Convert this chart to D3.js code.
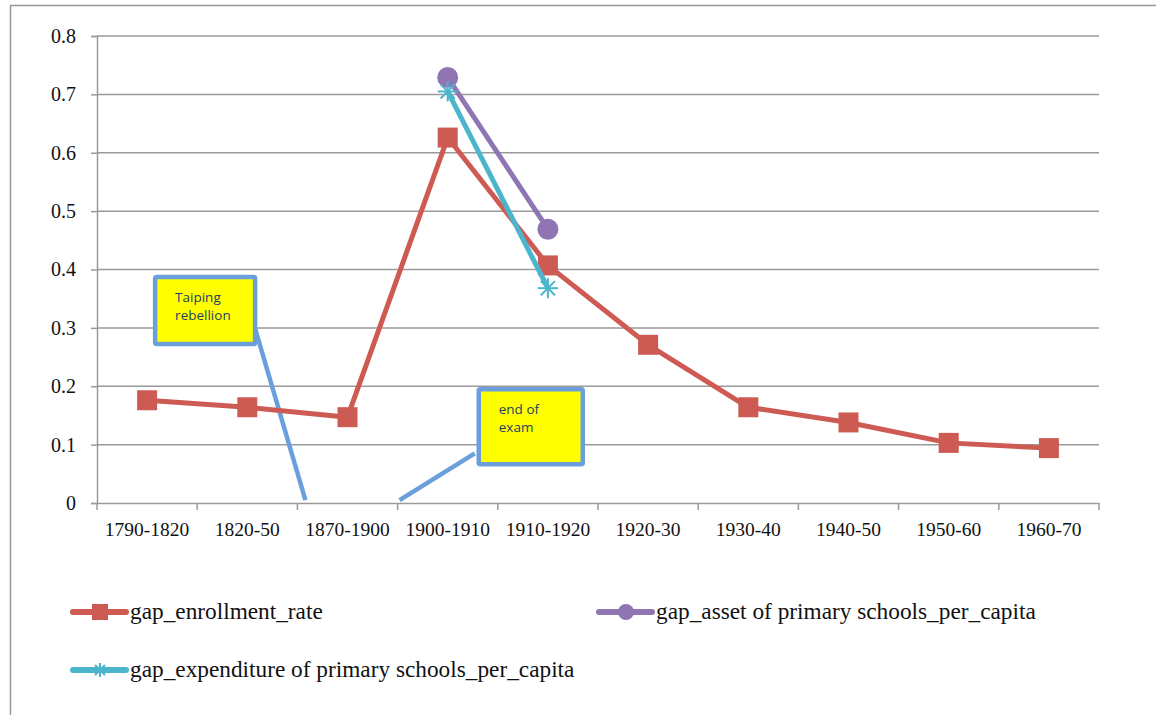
<!DOCTYPE html>
<html>
<head>
<meta charset="utf-8">
<script src="https://cdn.jsdelivr.net/npm/d3@7"></script>
<style>
  body { margin: 0; background: white; }
</style>
</head>
<body>
<div id="chart"></div>
<script>
const periods = ['1790-1820', '1820-50', '1870-1900', '1900-1910', '1910-1920',
  '1920-30', '1930-40', '1940-50', '1950-60', '1960-70']
const enrollment = [0.176, 0.164, 0.147, 0.626, 0.407, 0.271, 0.164, 0.138, 0.103, 0.094]
const asset = [null, null, null, 0.729, 0.469, null, null, null, null, null]
const expenditure = [null, null, null, 0.705, 0.368, null, null, null, null, null]
const yTicks = [0, 0.1, 0.2, 0.3, 0.4, 0.5, 0.6, 0.7, 0.8]

const serif = "'Liberation Serif', 'Times New Roman', serif"
const width = 1156
const height = 715
const margin = { top: 36, left: 97, right: 57, bottom: 212 }

const svg = d3.select('#chart')
  .append('svg')
  .attr('width', width)
  .attr('height', height)

// outer chart frame
svg.append('rect')
  .attr('x', 10.5).attr('y', 5.5)
  .attr('width', 1160).attr('height', 720)
  .attr('fill', 'none')
  .attr('stroke', '#999')
  .attr('stroke-width', 1.5)

const x = d3.scaleBand()
  .domain(periods)
  .range([margin.left, width - margin.right])

const y = d3.scaleLinear()
  .domain([0, 0.8])
  .range([height - margin.bottom, margin.top])

// grid lines
svg.append('g')
  .selectAll('line')
  .data(yTicks.filter(d => d > 0))
  .enter()
  .append('line')
  .attr('x1', margin.left)
  .attr('x2', width - margin.right)
  .attr('y1', d => y(d))
  .attr('y2', d => y(d))
  .attr('stroke', '#9a9a9a')
  .attr('stroke-width', 1.5)

// y axis
const yAxis = svg.append('g')
  .attr('transform', 'translate(' + margin.left + ',0)')
  .call(d3.axisLeft(y).tickValues(yTicks).tickSize(6).tickPadding(15)
    .tickFormat(d => d === 0 ? '0' : d3.format('.1f')(d)))
yAxis.attr('font-family', serif).attr('font-size', 20)
yAxis.select('.domain').attr('stroke', '#9a9a9a').attr('stroke-width', 1.5)
yAxis.selectAll('line').attr('stroke', '#9a9a9a').attr('stroke-width', 1.5)
yAxis.selectAll('text').attr('fill', '#111')

// x axis
const xAxis = svg.append('g')
  .attr('transform', 'translate(0,' + y(0) + ')')
  .call(d3.axisBottom(x).tickSize(0).tickPadding(19))
xAxis.attr('font-family', serif).attr('font-size', 19.5)
xAxis.select('.domain').attr('stroke', '#9a9a9a').attr('stroke-width', 1.5)
xAxis.selectAll('text').attr('fill', '#111')
// tick marks between categories
svg.append('g')
  .selectAll('line')
  .data(periods.concat(['end']))
  .enter()
  .append('line')
  .attr('x1', (d, i) => margin.left + i * x.step())
  .attr('x2', (d, i) => margin.left + i * x.step())
  .attr('y1', y(0))
  .attr('y2', y(0) + 7)
  .attr('stroke', '#9a9a9a')
  .attr('stroke-width', 1.5)

const cx = (d, i) => x(periods[i]) + x.bandwidth() / 2

// callouts (placed in data coordinates: band steps along x, values along y)
const callouts = [
  { lines: ['Taiping', 'rebellion'], bx: 0.58, by: 0.387, bw: 100, bh: 67,
    from: [1.55, 0.315], to: [2.08, 0.005] },
  { lines: ['end of', 'exam'], bx: 3.81, by: 0.195, bw: 104, bh: 75,
    from: [3.77, 0.085], to: [3.02, 0.005] }
]
const at = v => margin.left + v * x.step()

const cg = svg.append('g')
callouts.forEach(c => {
  cg.append('line')
    .attr('x1', at(c.from[0])).attr('y1', y(c.from[1]))
    .attr('x2', at(c.to[0])).attr('y2', y(c.to[1]))
    .attr('stroke', '#6a9fdc')
    .attr('stroke-width', 4.5)
  cg.append('rect')
    .attr('x', at(c.bx)).attr('y', y(c.by))
    .attr('width', c.bw).attr('height', c.bh)
    .attr('fill', '#ffff00')
    .attr('stroke', '#6a9fdc')
    .attr('stroke-width', 4.5)
    .attr('rx', 1.5)
  cg.selectAll(null)
    .data(c.lines)
    .enter()
    .append('text')
    .attr('x', at(c.bx) + 20)
    .attr('y', (d, i) => y(c.by) + 25 + i * 18)
    .text(d => d)
    .attr('font-size', 13.5)
    .attr('fill', '#243f60')
    .attr('font-family', "'Open Sans', 'Liberation Sans', sans-serif")
})

const line = d3.line()
  .defined(d => d !== null)
  .x(cx)
  .y(d => y(d))

const red = '#cd5b53'
const purple = '#8f76b2'
const cyan = '#4bb5cc'

// enrollment series
svg.append('path')
  .datum(enrollment)
  .attr('d', line)
  .attr('fill', 'none')
  .attr('stroke', red)
  .attr('stroke-width', 5)
  .attr('stroke-linejoin', 'round')
svg.append('g')
  .selectAll('rect')
  .data(enrollment)
  .enter()
  .append('rect')
  .attr('x', (d, i) => cx(d, i) - 10)
  .attr('y', d => y(d) - 10)
  .attr('width', 20)
  .attr('height', 20)
  .attr('fill', red)

// asset series
svg.append('path')
  .datum(asset)
  .attr('d', line)
  .attr('fill', 'none')
  .attr('stroke', purple)
  .attr('stroke-width', 5)
svg.append('g')
  .selectAll('circle')
  .data(asset.map((d, i) => [d, i]).filter(d => d[0] !== null))
  .enter()
  .append('circle')
  .attr('cx', d => cx(d[0], d[1]))
  .attr('cy', d => y(d[0]))
  .attr('r', 10.5)
  .attr('fill', purple)

// expenditure series
svg.append('path')
  .datum(expenditure)
  .attr('d', line)
  .attr('fill', 'none')
  .attr('stroke', cyan)
  .attr('stroke-width', 5)

function starMarker(g, px, py, r) {
  const angles = [0, 45, 90, 135]
  angles.forEach(a => {
    const rad = a * Math.PI / 180
    g.append('line')
      .attr('x1', px - r * Math.cos(rad)).attr('y1', py - r * Math.sin(rad))
      .attr('x2', px + r * Math.cos(rad)).attr('y2', py + r * Math.sin(rad))
      .attr('stroke', cyan)
      .attr('stroke-width', 2)
  })
}
const sg = svg.append('g')
expenditure.forEach((d, i) => {
  if (d !== null) starMarker(sg, cx(d, i), y(d), 10)
})

// legend
const legend = [
  { name: 'gap_enrollment_rate', color: red, marker: 'square', lx: 73, ly: 612 },
  { name: 'gap_asset of primary schools_per_capita', color: purple, marker: 'circle', lx: 599, ly: 612 },
  { name: 'gap_expenditure of primary schools_per_capita', color: cyan, marker: 'star', lx: 73, ly: 670 }
]
const lg = svg.append('g')
legend.forEach(l => {
  lg.append('line')
    .attr('x1', l.lx).attr('x2', l.lx + 53)
    .attr('y1', l.ly).attr('y2', l.ly)
    .attr('stroke', l.color)
    .attr('stroke-width', 6)
    .attr('stroke-linecap', 'round')
  const mx = l.lx + 27
  if (l.marker === 'square') {
    lg.append('rect').attr('x', mx - 8).attr('y', l.ly - 8)
      .attr('width', 16).attr('height', 16).attr('fill', l.color)
  } else if (l.marker === 'circle') {
    lg.append('circle').attr('cx', mx).attr('cy', l.ly).attr('r', 8).attr('fill', l.color)
  } else {
    starMarker(lg, mx, l.ly, 7)
  }
  lg.append('text')
    .attr('x', l.lx + 57)
    .attr('y', l.ly + 7)
    .text(l.name)
    .attr('font-size', 23.3)
    .attr('font-family', serif)
    .attr('fill', '#111')
})
</script>
</body>
</html>
